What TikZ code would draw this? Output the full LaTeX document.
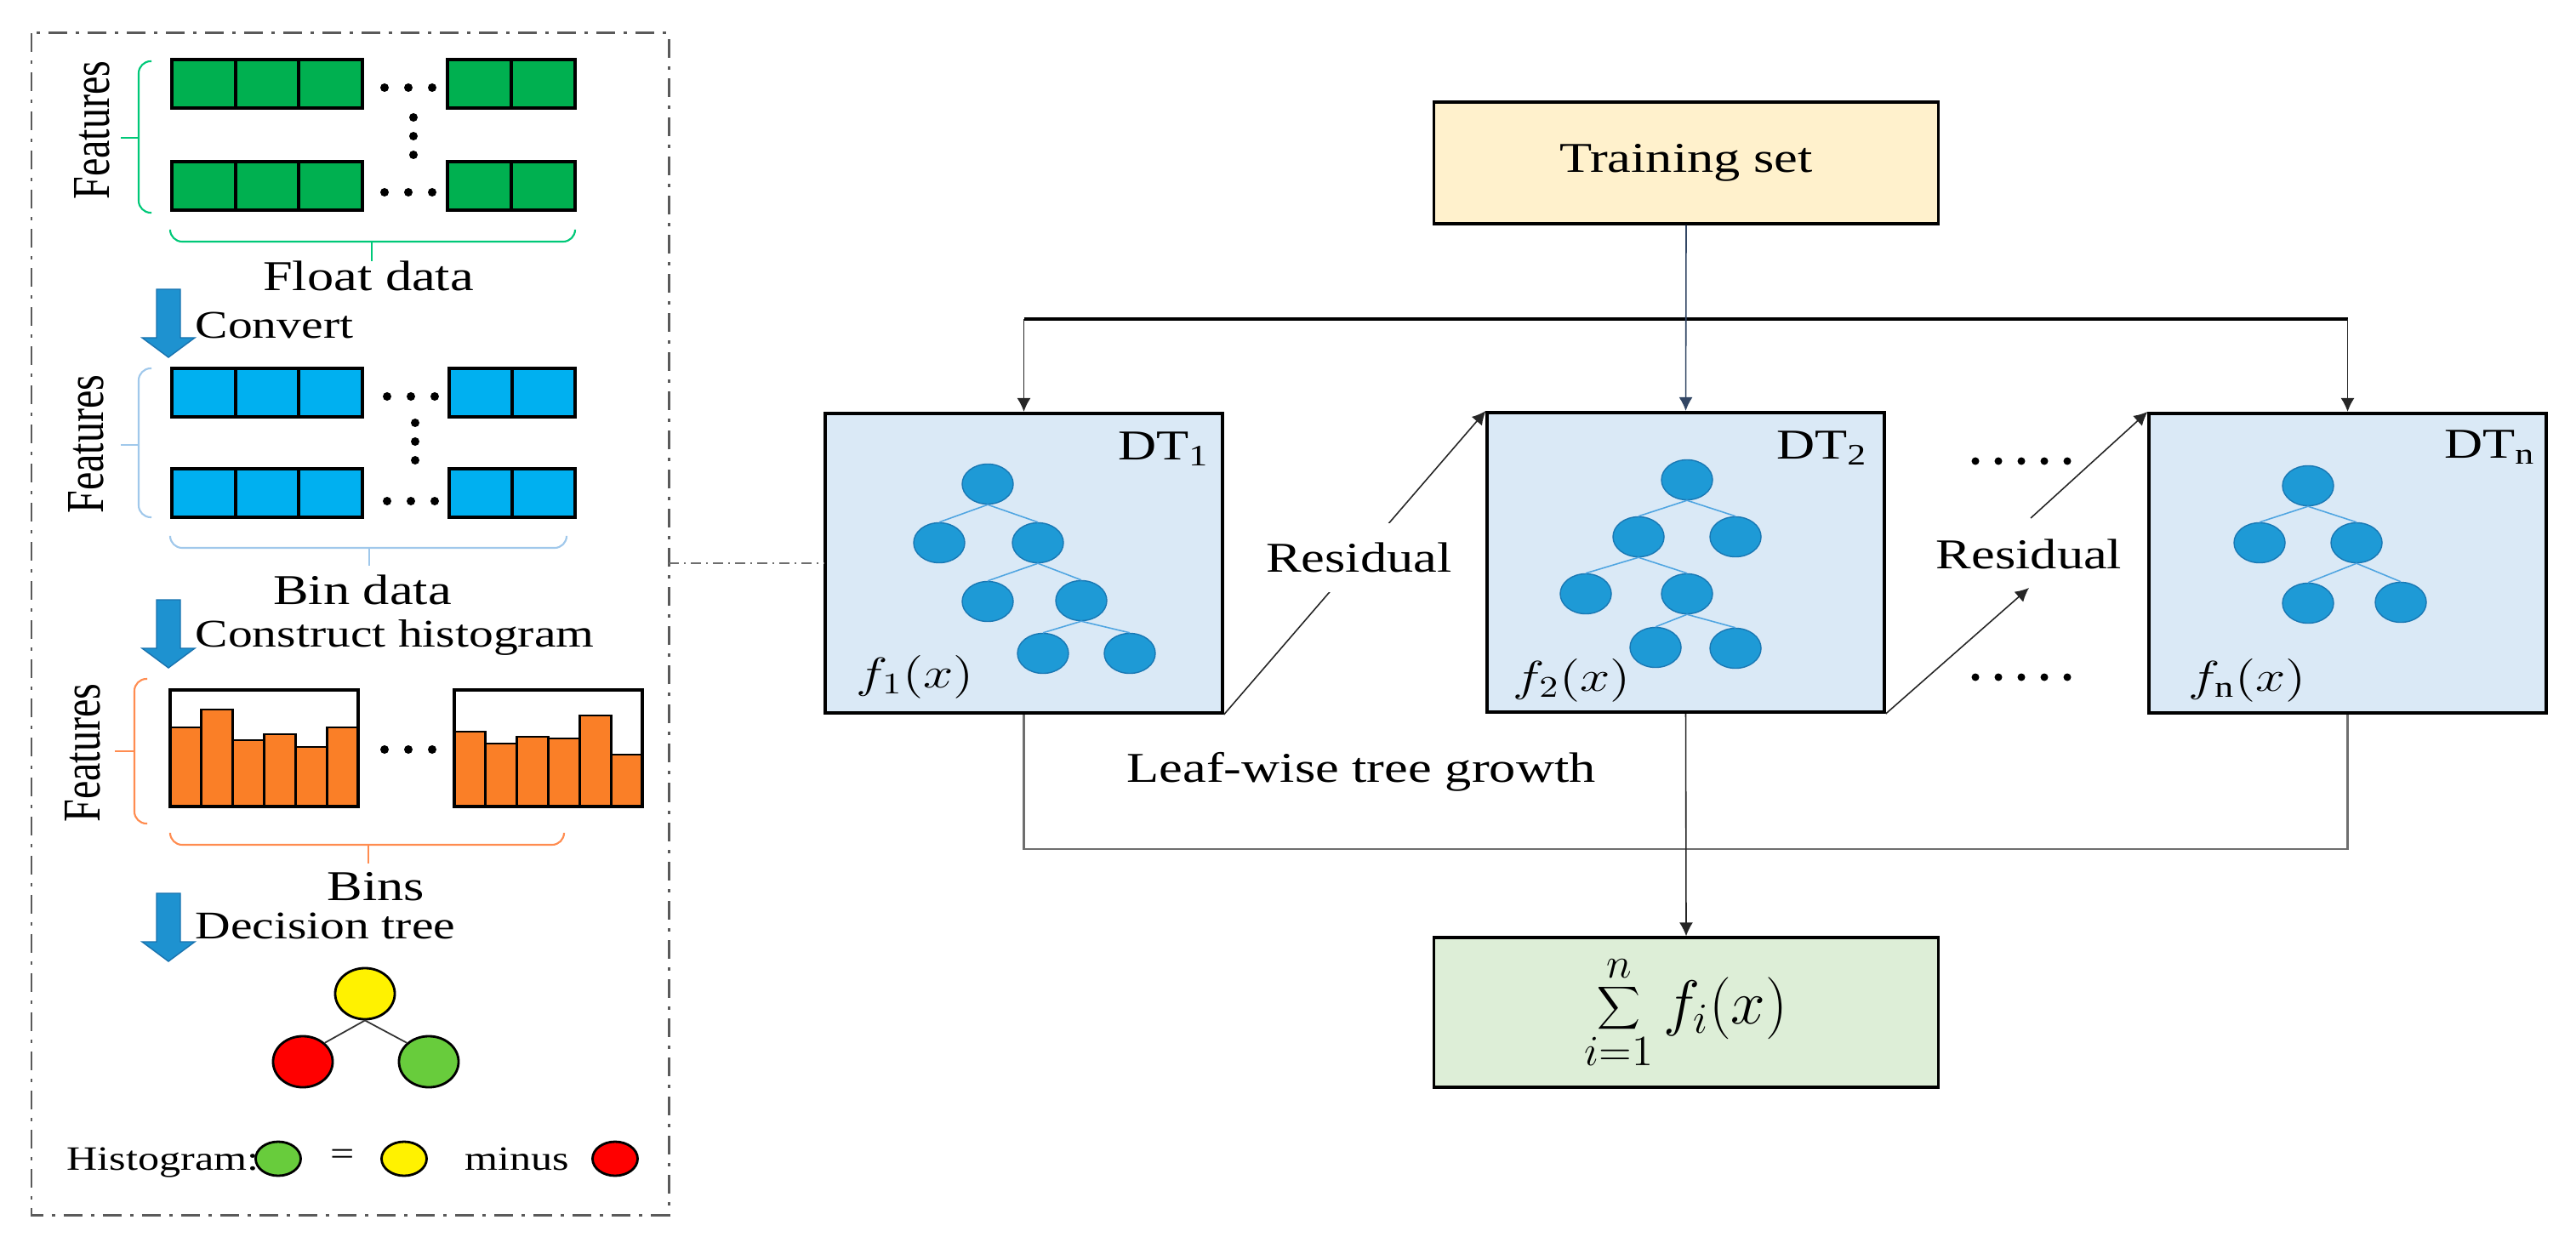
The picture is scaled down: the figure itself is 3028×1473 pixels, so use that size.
\documentclass[tikz,border=0pt]{standalone}
\usepackage{fontspec}
\setmainfont{Liberation Serif}
\usetikzlibrary{arrows.meta,shapes.geometric}
\definecolor{cellgreen}{RGB}{0,176,80}
\definecolor{cellblue}{RGB}{0,176,240}
\definecolor{barorange}{RGB}{250,127,39}
\definecolor{brgreen}{RGB}{0,200,120}
\definecolor{brblue}{RGB}{160,200,235}
\definecolor{brorange}{RGB}{255,140,80}
\definecolor{arrblue}{RGB}{30,146,208}
\definecolor{arredge}{RGB}{25,115,175}
\definecolor{dtfill}{RGB}{218,233,246}
\definecolor{treefill}{RGB}{30,154,214}
\definecolor{treeedge}{RGB}{25,120,180}
\definecolor{treeline}{RGB}{80,165,225}
\definecolor{trainfill}{RGB}{255,241,204}
\definecolor{sumfill}{RGB}{221,238,215}
\definecolor{nodegreen}{RGB}{104,204,60}
\definecolor{framegray}{RGB}{90,90,90}
\definecolor{linegray}{RGB}{110,110,110}
\definecolor{slateline}{RGB}{50,70,100}
\newcommand{\myhs}[1]{\scalebox{1.25}[1]{#1}}
\newcommand{\myvs}[1]{\scalebox{1}[1.3]{#1}}
\begin{document}
\begin{tikzpicture}[x=0.01cm,y=-0.01cm,
  txtA/.style={font=\fontsize{14.2}{17}\selectfont, inner sep=0pt},
  txtB/.style={font=\fontsize{13.1}{16}\selectfont, inner sep=0pt},
  txtC/.style={font=\fontsize{11.4}{14}\selectfont, inner sep=0pt},
  feat/.style={font=\fontsize{13.7}{16}\selectfont, inner sep=0pt, rotate=90},
  cellbox/.style={draw=black, line width=1.1pt},
  barbox/.style={draw=black, line width=0.8pt, fill=barorange},
  histbox/.style={draw=black, line width=0.9pt},
  brg/.style={draw=brgreen, line width=0.6pt, rounded corners=4pt},
  brb/.style={draw=brblue, line width=0.6pt, rounded corners=4pt},
  bro/.style={draw=brorange, line width=0.6pt, rounded corners=4pt},
  frameline/.style={draw=framegray, line width=0.85pt, dash pattern=on 2.2mm off 1mm on 0.4mm off 1mm},
  ddline/.style={draw=linegray, line width=0.4pt, dash pattern=on 1.2mm off 0.6mm on 0.2mm off 0.6mm},
  dtbox/.style={draw=black, line width=1.1pt, fill=dtfill, minimum width=46.6mm, minimum height=35.2mm, inner sep=0pt},
  trainbox/.style={draw=black, line width=0.9pt, fill=trainfill, minimum width=59.2mm, minimum height=14.3mm, inner sep=0pt, font=\fontsize{14.2}{17}\selectfont},
  sumbox/.style={draw=black, line width=0.9pt, fill=sumfill, minimum width=59.2mm, minimum height=17.6mm, inner sep=0pt, font=\fontsize{20}{24}\selectfont},
  tnode/.style={ellipse, draw=treeedge, line width=0.4pt, fill=treefill, minimum width=6mm, minimum height=4.7mm, inner sep=0pt},
  tline/.style={draw=treeline, line width=0.45pt},
  cnode/.style={ellipse, draw=black, line width=0.8pt, minimum width=7mm, minimum height=6mm, inner sep=0pt},
  lnode/.style={ellipse, draw=black, line width=0.8pt, minimum width=5.3mm, minimum height=4mm, inner sep=0pt},
  conn/.style={draw=black!85, line width=0.45pt},
  tip/.style={-{Latex[length=1.6mm,width=1.6mm]}},
  dotc/.style={fill=black}
]
\useasboundingbox (0,0) rectangle (3028,1473);

% ---------------- left panel ----------------
\draw[frameline] (37,39) rectangle (786,1428);

% green rows
\foreach \i in {0,1,2} {
  \draw[cellbox, fill=cellgreen] ({202+\i*74.7},70) rectangle ++(74.7,57);
  \draw[cellbox, fill=cellgreen] ({202+\i*74.7},190) rectangle ++(74.7,57);
}
\foreach \i in {0,1} {
  \draw[cellbox, fill=cellgreen] ({526+\i*75},70) rectangle ++(75,57);
  \draw[cellbox, fill=cellgreen] ({526+\i*75},190) rectangle ++(75,57);
}
\foreach \xx in {452,480,508} {
  \fill[dotc] (\xx,103) circle (0.5mm);
  \fill[dotc] (\xx,226) circle (0.5mm);
}
\foreach \yy in {138,160,182} \fill[dotc] (486,\yy) circle (0.5mm);
\draw[brg] (178,72) -- (163,72) -- (163,250) -- (178,250);
\draw[brg] (163,162) -- (142,162);
\draw[brg] (200,270) -- (200,284) -- (676,284) -- (676,270);
\draw[brg] (437,284) -- (437,307);
\node[feat] (feat1) at (108,153) {\myvs{Features}};
\node[txtA, anchor=base] (float) at (433,342) {\myhs{Float data}};

% blue arrows
\foreach \ys in {340,705,1050} {
  \filldraw[fill=arrblue, draw=arredge, line width=0.4pt] (184,\ys) -- (212,\ys) -- (212,\ys+57) -- (229,\ys+57) -- (198,\ys+80) -- (167,\ys+57) -- (184,\ys+57) -- cycle;
}
\node[txtB, anchor=base west] (convert) at (229,397) {\myhs{Convert}};

% blue rows
\foreach \i in {0,1,2} {
  \draw[cellbox, fill=cellblue] ({202+\i*74.7},433) rectangle ++(74.7,57);
  \draw[cellbox, fill=cellblue] ({202+\i*74.7},551) rectangle ++(74.7,57);
}
\foreach \i in {0,1} {
  \draw[cellbox, fill=cellblue] ({528+\i*74},433) rectangle ++(74,57);
  \draw[cellbox, fill=cellblue] ({528+\i*74},551) rectangle ++(74,57);
}
\foreach \xx in {455,483,511} {
  \fill[dotc] (\xx,466) circle (0.5mm);
  \fill[dotc] (\xx,589) circle (0.5mm);
}
\foreach \yy in {497,519,541} \fill[dotc] (488,\yy) circle (0.5mm);
\draw[brb] (178,433) -- (163,433) -- (163,608) -- (178,608);
\draw[brb] (163,523) -- (142,523);
\draw[brb] (200,630) -- (200,644) -- (666,644) -- (666,630);
\draw[brb] (434,644) -- (434,665);
\node[feat] (feat2) at (101,522) {\myvs{Features}};
\node[txtA, anchor=base] (bin) at (426,710) {\myhs{Bin data}};
\node[txtB, anchor=base west] (construct) at (229,760) {\myhs{Construct histogram}};

% histograms
\foreach \t [count=\i from 0] in {855,834,870,863,878,855}
  \draw[barbox] ({200+\i*36.83},\t) rectangle ({200+(\i+1)*36.83},948);
\draw[histbox] (200,811) rectangle (421,948);
\foreach \t [count=\i from 0] in {860,874,866,868,841,887}
  \draw[barbox] ({534+\i*36.83},\t) rectangle ({534+(\i+1)*36.83},948);
\draw[histbox] (534,811) rectangle (755,948);
\foreach \xx in {452,480,508} \fill[dotc] (\xx,881) circle (0.5mm);
\draw[bro] (173,798) -- (158,798) -- (158,968) -- (173,968);
\draw[bro] (158,883) -- (135,883);
\draw[bro] (200,980) -- (200,993) -- (663,993) -- (663,980);
\draw[bro] (433,993) -- (433,1015);
\node[feat] (feat3) at (97,885) {\myvs{Features}};
\node[txtA, anchor=base] (bins) at (442,1058) {\myhs{Bins}};
\node[txtB, anchor=base west] (dectree) at (229,1103) {\myhs{Decision tree}};

% decision tree
\node[cnode, fill=yellow] (ty) at (429,1168) {};
\node[cnode, fill=red] (tr) at (356,1248) {};
\node[cnode, fill=nodegreen] (tg) at (504,1248) {};
\draw[black!80, line width=0.5pt] (ty.south) -- (tr.north east);
\draw[black!80, line width=0.5pt] (ty.south) -- (tg.north west);

% legend
\node[txtC, anchor=base west] (histlab) at (78,1375) {\myhs{Histogram:}};
\node[lnode, fill=nodegreen] (lg) at (327,1362) {};
\node[txtC] (eq) at (403,1360) {\myhs{=}};
\node[lnode, fill=yellow] (ly) at (475,1362) {};
\node[txtC, anchor=base west] (minus) at (546,1375) {\myhs{minus}};
\node[lnode, fill=red] (lr) at (723,1362) {};

% ---------------- right panel ----------------
\node[trainbox] (train) at (1982,191.5) {\myhs{Training set}};
\node[dtbox] (dt1) at (1203.5,662) {};
\node[dtbox] (dt2) at (1981.5,661) {};
\node[dtbox] (dtn) at (2759.5,662) {};
\node[sumbox] (sum) at (1982,1190) {$\displaystyle\sum_{i=1}^{n} f_i(x)$};

% labels in DT boxes
\node[txtA, anchor=base east] (dt1lab) at (1422,540) {\myhs{DT\textsubscript{1}}};
\node[txtA, anchor=base east] (dt2lab) at (2196,539) {\myhs{DT\textsubscript{2}}};
\node[txtA, anchor=base east] (dtnlab) at (2981,538) {\myhs{DT\textsubscript{n}}};
\node[txtA, anchor=base west] (f1lab) at (1006,808) {\myhs{$f_1(x)$}};
\node[txtA, anchor=base west] (f2lab) at (1778,812) {\myhs{$f_2(x)$}};
\node[txtA, anchor=base west] (fnlab) at (2572,812) {\myhs{$f_{\mathrm{n}}(x)$}};

% trees
\node[tnode] (a1) at (1161,569) {};
\node[tnode] (b1) at (1104,638) {};
\node[tnode] (c1) at (1220,638) {};
\node[tnode] (d1) at (1161,707) {};
\node[tnode] (e1) at (1271,706) {};
\node[tnode] (f1) at (1226,768) {};
\node[tnode] (g1) at (1328,768) {};
\draw[tline] (a1.south) -- (b1.north) (a1.south) -- (c1.north)
  (c1.south) -- (d1.north) (c1.south) -- (e1.north)
  (e1.south) -- (f1.north) (e1.south) -- (g1.north);

\node[tnode] (a2) at (1983,564) {};
\node[tnode] (b2) at (1926,631) {};
\node[tnode] (c2) at (2040,631) {};
\node[tnode] (d2) at (1864,698) {};
\node[tnode] (e2) at (1983,698) {};
\node[tnode] (f2) at (1946,761) {};
\node[tnode] (g2) at (2040,762) {};
\draw[tline] (a2.south) -- (b2.north) (a2.south) -- (c2.north)
  (b2.south) -- (d2.north) (b2.south) -- (e2.north)
  (e2.south) -- (f2.north) (e2.south) -- (g2.north);

\node[tnode] (a3) at (2713,571) {};
\node[tnode] (b3) at (2656,638) {};
\node[tnode] (c3) at (2770,638) {};
\node[tnode] (d3) at (2713,709) {};
\node[tnode] (e3) at (2822,708) {};
\draw[tline] (a3.south) -- (b3.north) (a3.south) -- (c3.north)
  (c3.south) -- (d3.north) (c3.south) -- (e3.north);

% connectors from training set
\coordinate (barL) at (1203.5,375);
\coordinate (barR) at (2759.5,375);
\draw[draw=black, line width=0.9pt] (barL) -- (barR);
\draw[conn, tip, draw=slateline] (train.south) -- (dt2.north);
\draw[conn, tip] (barL) -- (dt1.north);
\draw[conn, tip] (barR) -- (dtn.north);

% bottom connectors
\coordinate (botL) at (1203.5,998);
\coordinate (botR) at (2759.5,998);
\draw[draw=linegray, line width=0.6pt] (dt1.south) -- (botL) -- (botR) -- (dtn.south);
\draw[conn, tip] (dt2.south) -- (sum.north);
\node[txtA] (leaf) at (1600,907) {\myhs{Leaf-wise tree growth}};

% residual arrows
\draw[conn, tip] (dt1.south east) -- node[txtA, pos=0.516, fill=white, inner ysep=2.3mm] (res1) {\myhs{Residual}} (dt2.north west);
\node[txtA] (res2) at (2385,651) {\myhs{Residual}};
\coordinate (r2a) at (2385,691);
\coordinate (r2b) at (2387,609);
\draw[conn, tip] (dt2.south east) -- (r2a);
\draw[conn, tip] (r2b) -- (dtn.north west);
\foreach \xx in {2322,2349,2376,2403,2430} {
  \fill[dotc] (\xx,542) circle (0.45mm);
  \fill[dotc] (\xx,796) circle (0.45mm);
}

% link from left panel
\coordinate (frameR) at (786,662);
\draw[ddline] (frameR) -- (dt1.west);
\end{tikzpicture}
\end{document}
